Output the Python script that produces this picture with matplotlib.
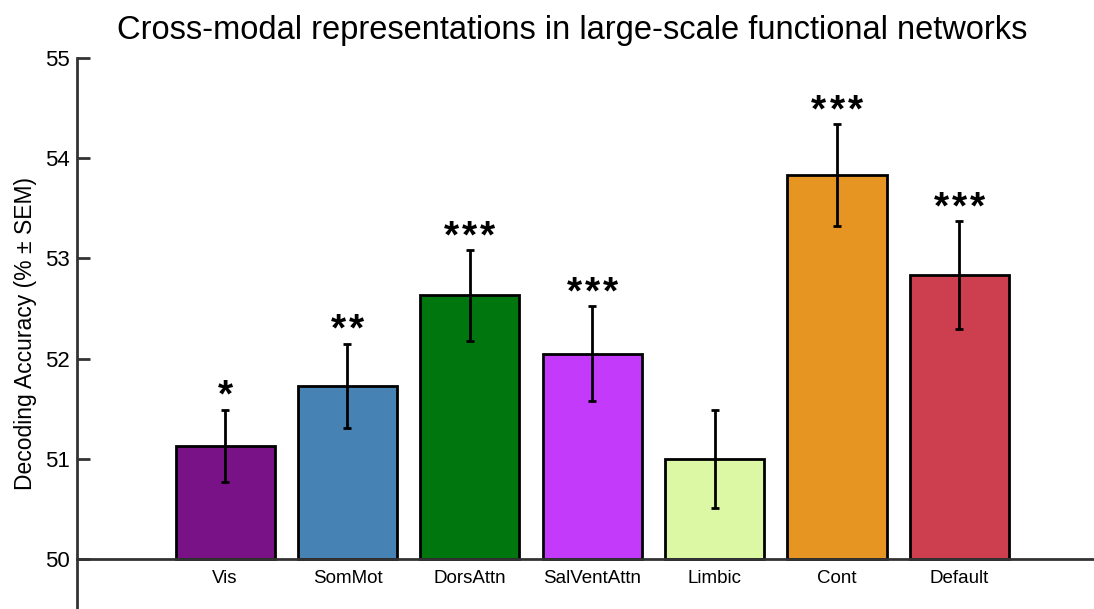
import numpy as np
import matplotlib
matplotlib.use('Agg')
import matplotlib.pyplot as plt

plt.rcParams['font.family'] = ['Liberation Sans', 'DejaVu Sans']

networks = ['Vis', 'SomMot', 'DorsAttn', 'SalVentAttn', 'Limbic', 'Cont', 'Default']
accuracy = [51.13, 51.73, 52.63, 52.05, 51.00, 53.83, 52.83]
sem = [0.36, 0.42, 0.45, 0.47, 0.49, 0.51, 0.54]
stars = ['*', '**', '***', '***', '', '***', '***']
colors = ['#781286', '#4682B4', '#00760E', '#C43AFA', '#DCF8A4', '#E69422', '#CD3E4E']

base = 50
fig = plt.figure(figsize=(10.94, 6.09), dpi=100)
ax = fig.add_axes([0.0704, 0.0, 0.9296, 0.9048])

x = np.arange(len(networks))
heights = [a - base for a in accuracy]
ax.bar(x, heights, bottom=base, width=0.81, color=colors,
       edgecolor='black', linewidth=2, zorder=2)
ax.errorbar(x, accuracy, yerr=sem, fmt='none', ecolor='black',
            elinewidth=2, capsize=3, capthick=2, zorder=3)

# significance markers above the error bars, one asterisk at a time
# so the spacing between them can be set
star_gap = 13  # points
for xi, a, s, lab in zip(x, accuracy, sem, stars):
    n = len(lab)
    for k in range(n):
        dx = (k - (n - 1) / 2) * star_gap
        ax.annotate('*', xy=(xi, a + s), xytext=(dx, 2), textcoords='offset points',
                    ha='center', va='baseline', fontsize=28, fontweight='bold',
                    color='black')

ax.set_xlim(-1.21, 7.1)
ax.set_ylim(49.5, 55)
ax.set_yticks([50, 51, 52, 53, 54, 55])
ax.set_xticks(x)
ax.set_xticklabels(networks)
ax.tick_params(axis='x', length=0, pad=8, labelsize=13.5)
ax.tick_params(axis='y', direction='in', length=9, width=2, color='#333333',
               labelsize=16, pad=5)

for side in ['top', 'right']:
    ax.spines[side].set_visible(False)
ax.spines['bottom'].set_position(('data', base))
ax.spines['left'].set_bounds(49.5, 55)
for side in ['bottom', 'left']:
    ax.spines[side].set_linewidth(2)
    ax.spines[side].set_color('#333333')

ax.set_ylabel('Decoding Accuracy (% \u00b1 SEM)', fontsize=16.5, labelpad=6)
fig.text(572 / 1094, 1 - 30 / 609, 'Cross-modal representations in large-scale functional networks',
         ha='center', va='center', fontsize=23.5)

fig.savefig('out.png', dpi=100)
